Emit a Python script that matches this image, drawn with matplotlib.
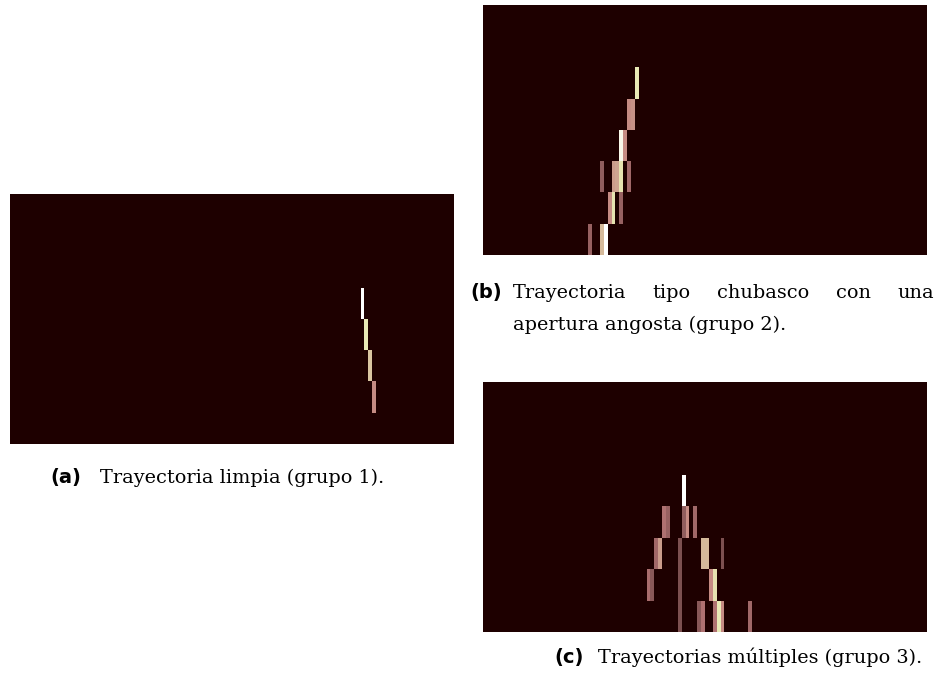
import matplotlib
matplotlib.use("Agg")
import matplotlib.pyplot as plt
import numpy as np

W, H = 942, 684
N_ROWS = 8
N_COLS = 114

# panel (a): clean track (group 1)
rows_a = [3, 4, 5, 6]
cols_a = [90, 91, 92, 93]
vals_a = [1.0, 0.75, 0.6, 0.4]

# panel (b): shower-type track, narrow opening (group 2)
rows_b = [2, 3, 3, 4, 4, 5, 5, 5, 5, 5, 6, 6, 6, 7, 7, 7]
cols_b = [39, 37, 38, 35, 36, 30, 33, 34, 35, 37, 32, 33, 35, 27, 30, 31]
vals_b = [0.75, 0.4, 0.42, 0.92, 0.4, 0.2, 0.45, 0.48, 0.72, 0.25,
          0.4, 0.72, 0.22, 0.22, 0.55, 1.0]

# panel (c): multiple tracks (group 3)
rows_c = [3,
          4, 4, 4, 4, 4,
          5, 5, 5, 5, 5, 5,
          6, 6, 6, 6, 6,
          7, 7, 7, 7, 7, 7, 7]
cols_c = [51,
          46, 47, 51, 52, 54,
          44, 45, 50, 56, 57, 61,
          42, 43, 50, 58, 59,
          50, 55, 56, 59, 60, 61, 68]
vals_c = [1.0,
          0.3, 0.22, 0.2, 0.4, 0.25,
          0.25, 0.45, 0.15, 0.55, 0.55, 0.15,
          0.28, 0.18, 0.15, 0.4, 0.72,
          0.15, 0.18, 0.3, 0.3, 0.75, 0.4, 0.25]

SERIF = "DejaVu Serif"
TXT_SIZE = 13.9
LBL_SIZE = 14


def make_grid(rows, cols, vals):
    grid = np.zeros((N_ROWS, N_COLS))
    grid[rows, cols] = vals
    return grid


def add_panel(fig, box, grid):
    # box = (left, top, right, bottom) in pixels of the figure
    l, t, r, b = box
    ax = fig.add_axes([l / W, 1 - b / H, (r - l) / W, (b - t) / H])
    ax.imshow(grid, cmap="pink", vmin=0, vmax=1, aspect="auto",
              interpolation="nearest")
    ax.set_axis_off()
    return ax


def put(fig, x, y, s, **kw):
    return fig.text(x / W, 1 - y / H, s, va="baseline", ha="left", **kw)


def label(fig, x, y, s):
    put(fig, x, y, s, fontfamily="DejaVu Sans", fontweight="bold",
        fontsize=LBL_SIZE)


def justified(fig, x0, x1, y, line):
    words = line.split()
    texts = [put(fig, x0, y, w, fontfamily=SERIF, fontsize=TXT_SIZE)
             for w in words]
    fig.canvas.draw()
    r = fig.canvas.get_renderer()
    widths = [t.get_window_extent(r).width for t in texts]
    gap = (x1 - x0 - sum(widths)) / (len(words) - 1)
    x = x0
    for t, wd in zip(texts, widths):
        t.set_x(x / W)
        x += wd + gap


def main():
    fig = plt.figure(figsize=(W / 100, H / 100), dpi=100)

    add_panel(fig, (10, 194, 454, 444), make_grid(rows_a, cols_a, vals_a))
    add_panel(fig, (483, 5, 927, 255), make_grid(rows_b, cols_b, vals_b))
    add_panel(fig, (483, 382, 927, 632), make_grid(rows_c, cols_c, vals_c))

    label(fig, 50, 483, "(a)")
    put(fig, 100, 483, "Trayectoria limpia (grupo 1).",
        fontfamily=SERIF, fontsize=TXT_SIZE)

    label(fig, 470, 298, "(b)")
    justified(fig, 513, 934, 298, "Trayectoria tipo chubasco con una")
    put(fig, 513, 330, "apertura angosta (grupo 2).",
        fontfamily=SERIF, fontsize=TXT_SIZE)

    label(fig, 554, 663, "(c)")
    put(fig, 598, 663, "Trayectorias múltiples (grupo 3).",
        fontfamily=SERIF, fontsize=TXT_SIZE)

    fig.savefig("out.png", dpi=100)


if __name__ == "__main__":
    main()
